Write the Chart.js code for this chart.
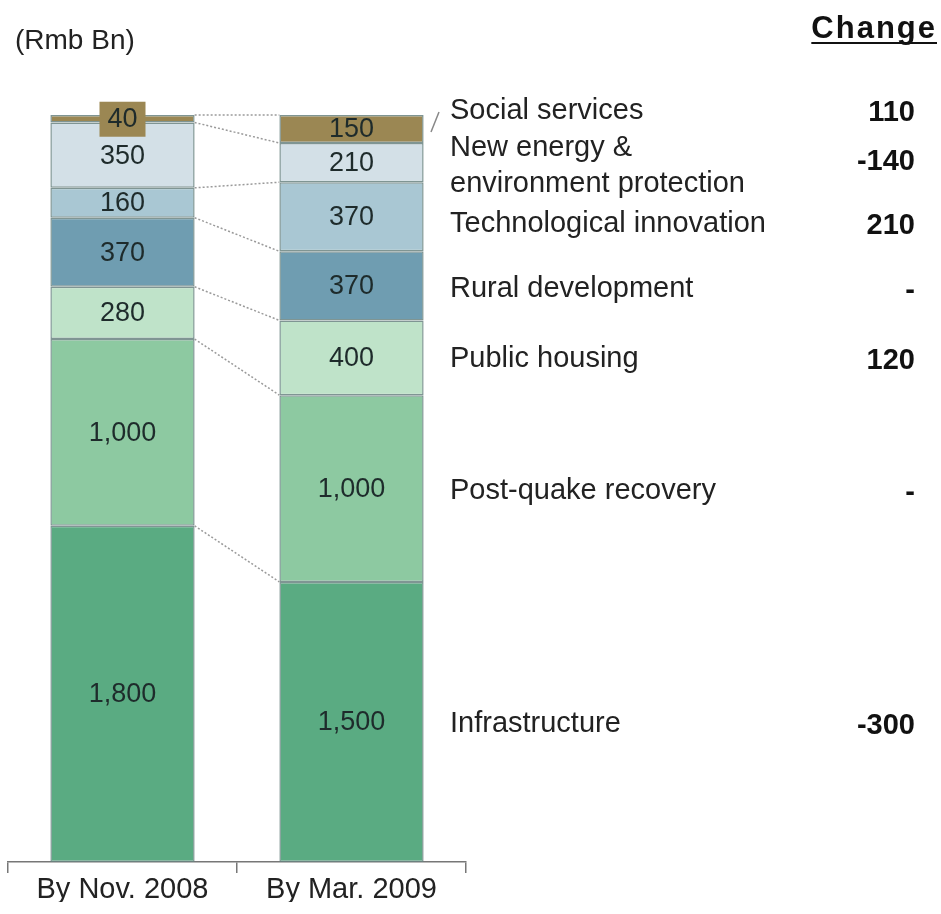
<!DOCTYPE html>
<html>
<head>
<meta charset="utf-8">
<script src="https://cdn.jsdelivr.net/npm/chart.js@4"></script>
<style>
  html, body { margin: 0; padding: 0; background: #fff; overflow: hidden; }
  #wrap { width: 941px; height: 914px; position: relative; }
</style>
</head>
<body>
<div id="wrap"><canvas id="chart"></canvas></div>
<script>
// Stimulus package breakdown (Rmb Bn), bottom segment first
const periods = ["By Nov. 2008", "By Mar. 2009"];
const sectors = [
  "Infrastructure",
  "Post-quake recovery",
  "Public housing",
  "Rural development",
  "Technological innovation",
  ["New energy &", "environment protection"],
  "Social services",
];
const infrastructure = [1800, 1500];
const postQuake = [1000, 1000];
const publicHousing = [280, 400];
const rural = [370, 370];
const techInnovation = [160, 370];
const newEnergy = [350, 210];
const socialServices = [40, 150];
const changes = ["-300", "-", "120", "-", "210", "-140", "110"];

const seriesValues = [infrastructure, postQuake, publicHousing, rural, techInnovation, newEnergy, socialServices];
const colors = ["#5aab82", "#8dc9a1", "#bfe3c9", "#6f9db1", "#a9c7d3", "#d3e0e7", "#9b8753"];

const FONT = '"Liberation Sans", Arial, sans-serif';
Chart.defaults.font.family = FONT;

// nudge of each legend row relative to the centre of its segment in bar 2
const rowNudge = [2, 2, 1, 3, 7, 3, -18];

const overlay = {
  id: "overlay",
  afterDatasetsDraw(chart) {
    const ctx = chart.ctx;
    ctx.save();

    // dotted connectors between the two bars at each segment top
    ctx.strokeStyle = "#9a9a9a";
    ctx.lineWidth = 1.5;
    ctx.setLineDash([2, 2]);
    chart.data.datasets.forEach((ds, i) => {
      const m = chart.getDatasetMeta(i).data;
      const a = m[0], b = m[1];
      ctx.beginPath();
      ctx.moveTo(a.x + a.width / 2, a.y);
      ctx.lineTo(b.x - b.width / 2, b.y);
      ctx.stroke();
    });
    ctx.setLineDash([]);

    // segment value labels
    ctx.textAlign = "center";
    ctx.textBaseline = "middle";
    ctx.font = "27px " + FONT;
    chart.data.datasets.forEach((ds, i) => {
      chart.getDatasetMeta(i).data.forEach((bar, j) => {
        const cy = (bar.y + bar.base) / 2;
        const h = Math.abs(bar.base - bar.y);
        if (h < 20) {
          // too thin: put label on a box of the segment colour
          ctx.fillStyle = ds.backgroundColor;
          ctx.fillRect(bar.x - 23, cy - 17, 46, 35);
        }
        ctx.fillStyle = "#1e2b2b";
        ctx.fillText(ds.data[j].toLocaleString("en-US"), bar.x, cy + 1);
      });
    });

    // legend rows + change column
    const textX = 450;
    const changeX = 915;
    chart.data.datasets.forEach((ds, i) => {
      const bar = chart.getDatasetMeta(i).data[1];
      const cy = (bar.y + bar.base) / 2 + rowNudge[i];
      const name = sectors[i];
      ctx.fillStyle = "#222";
      ctx.textAlign = "left";
      ctx.font = "29px " + FONT;
      if (Array.isArray(name)) {
        ctx.fillText(name[0], textX, cy - 18);
        ctx.fillText(name[1], textX, cy + 18);
      } else {
        ctx.fillText(name, textX, cy);
      }
      ctx.textAlign = "right";
      ctx.font = "bold 29px " + FONT;
      ctx.fillStyle = "#111";
      ctx.fillText(changes[i], changeX, Array.isArray(name) ? cy - 4 : cy + 2);
    });

    // slash pointing at the top segment label
    ctx.strokeStyle = "#888";
    ctx.lineWidth = 1.5;
    ctx.beginPath();
    ctx.moveTo(431, 132);
    ctx.lineTo(439, 112);
    ctx.stroke();

    // header + unit
    ctx.fillStyle = "#111";
    ctx.textAlign = "right";
    ctx.font = "bold 31px " + FONT;
    ctx.letterSpacing = "2px";
    ctx.fillText("Change", 937, 29);
    const w = ctx.measureText("Change").width;
    ctx.letterSpacing = "0px";
    ctx.fillRect(937 - w, 42, w, 2);

    ctx.fillStyle = "#222";
    ctx.textAlign = "left";
    ctx.font = "28px " + FONT;
    ctx.fillText("(Rmb Bn)", 15, 41);

    ctx.restore();
  },
};

new Chart(document.getElementById("chart"), {
  type: "bar",
  data: {
    labels: periods,
    datasets: seriesValues.map((vals, i) => ({
      label: Array.isArray(sectors[i]) ? sectors[i].join(" ") : sectors[i],
      data: vals,
      backgroundColor: colors[i],
      borderColor: "rgba(105,130,128,0.85)",
      borderWidth: 1.5,
      borderSkipped: false,
      barPercentage: 0.63,
      categoryPercentage: 1,
    })),
  },
  options: {
    responsive: true,
    maintainAspectRatio: false,
    animation: false,
    layout: { padding: { left: 8, right: 475, top: 115, bottom: 12 } },
    plugins: {
      legend: { display: false },
      tooltip: { enabled: false },
    },
    scales: {
      x: {
        stacked: true,
        grid: {
          offset: true,
          drawOnChartArea: false,
          drawTicks: true,
          tickLength: 11,
          color: "#777",
          lineWidth: 1.5,
        },
        border: { display: true, color: "#777", width: 1.5 },
        ticks: { color: "#222", font: { size: 29 }, padding: 0 },
        afterFit: (scale) => { scale.height = 40; },
      },
      y: {
        stacked: true,
        display: false,
        min: 0,
        max: 4000,
      },
    },
  },
  plugins: [overlay],
});
</script>
</body>
</html>
